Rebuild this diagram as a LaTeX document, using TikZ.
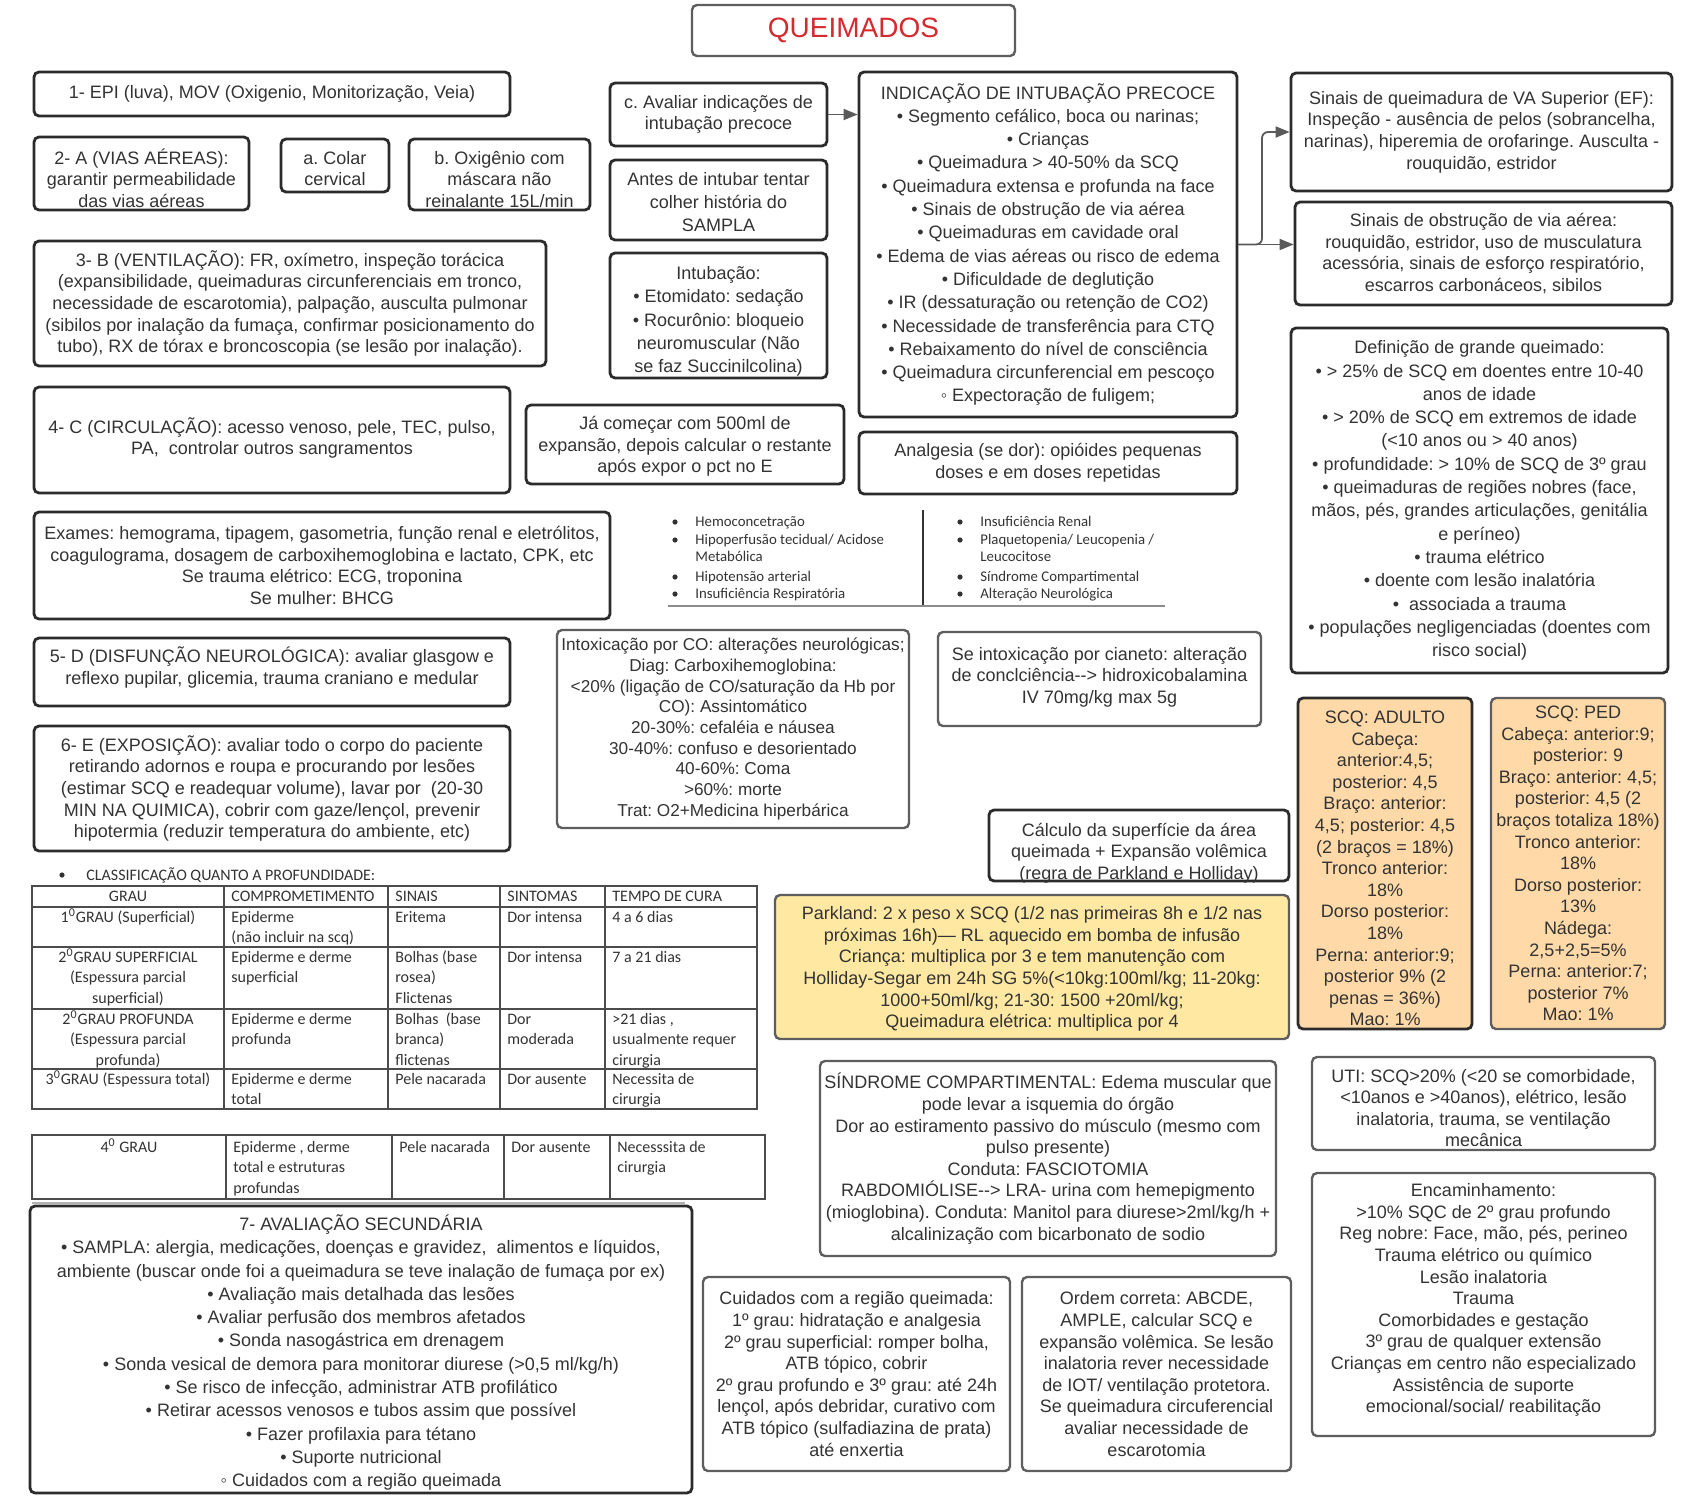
\documentclass[tikz,border=0pt]{standalone}
\usepackage{fontspec}
\setmainfont{Liberation Sans}
\newfontfamily\calfont{Carlito}
\usetikzlibrary{arrows.meta}
\frenchspacing
\definecolor{dkb}{HTML}{2B2B2B}
\definecolor{grb}{HTML}{5E5E5E}
\definecolor{peach}{HTML}{FFDAA8}
\definecolor{lyel}{HTML}{FEE8A2}
\definecolor{tred}{HTML}{D42A30}
\definecolor{agray}{HTML}{5A5A5A}
\definecolor{txtc}{HTML}{333333}
\newcommand\bx[7]{\node[#6, minimum width={(#4-#2)*0.5pt}, minimum height={(#5-#3)*0.5pt}] (#1) at ({(#2+#4)/2},{(#3+#5)/2}) {#7};}
% box with separately placed (vertically shifted) text
\newcommand\bxs[9]{\node[#6, minimum width={(#4-#2)*0.5pt}, minimum height={(#5-#3)*0.5pt}] (#1) at ({(#2+#4)/2},{(#3+#5)/2}) {};
  \node[txt, #7] (#1t) at ({(#2+#4)/2},{(#3+#5)/2+#8}) {#9};}
\newcommand\dashar{-\kern0pt->}
\newcommand\tstrut{\rule{0pt}{7.5pt}}
\begin{document}
\frenchspacing
\begin{tikzpicture}[x=0.5pt, y=-0.5pt,
 box/.style={draw=dkb, line width=1.4pt, rounded corners=2.5pt, inner sep=0pt, align=center, text=txtc, font=\fontsize{9}{10.8}\selectfont},
 gbox/.style={box, draw=grb, line width=1.2pt},
 wide/.style={font=\fontsize{9}{11.65}\selectfont},
 txt/.style={inner sep=0pt, align=center, text=txtc, font=\fontsize{9}{10.8}\selectfont},
 arr/.style={draw=agray, line width=0.9pt, -{Triangle[length=7pt,width=5.5pt]}},
 cellt/.style={inner sep=0pt, align=left, anchor=north west, text=txtc, font=\calfont\fontsize{8}{10.25}\selectfont},
 cellc/.style={cellt, align=center, anchor=north},
 lst/.style={inner sep=0pt, anchor=base west, text=txtc, font=\calfont\fontsize{7.4}{9}\selectfont},
 tline/.style={draw=black!70, line width=0.6pt}]
\fill[white] (0,0) rectangle (1684,1511);
\useasboundingbox (0,0) rectangle (1684,1511);

% title
\bx{title}{692}{5}{1015}{56}{gbox, font=\fontsize{14}{16}\selectfont, text=tred}{QUEIMADOS}

% left column
\bx{epi}{34}{72}{510}{116}{box}{1- EPI (luva), MOV (Oxigenio, Monitorização, Veia)}
\bxs{viasa}{34}{137}{249}{210}{box}{}{4.5}{2- A (VIAS AÉREAS):\\garantir permeabilidade\\das vias aéreas}
\bxs{colar}{281}{139}{389}{192}{box}{}{3}{a. Colar\\cervical}
\bxs{oxig}{409}{139}{590}{210}{box}{}{5}{b. Oxigênio com\\máscara não\\reinalante 15L/min}
\bx{vent}{34}{241}{546}{366}{box}{3- B (VENTILAÇÃO): FR, oxímetro, inspeção torácica\\(expansibilidade, queimaduras circunferenciais em tronco,\\necessidade de escarotomia), palpação, ausculta pulmonar\\(sibilos por inalação da fumaça, confirmar posicionamento do\\tubo), RX de tórax e broncoscopia (se lesão por inalação).}
\bxs{circ}{34}{387}{510}{493}{box}{}{-2}{4- C (CIRCULAÇÃO): acesso venoso, pele, TEC, pulso,\\PA,\ \ controlar outros sangramentos}
\bx{exames}{34}{512}{610}{619}{box}{Exames: hemograma, tipagem, gasometria, função renal e eletrólitos,\\coagulograma, dosagem de carboxihemoglobina e lactato, CPK, etc\\Se trauma elétrico: ECG, troponina\\Se mulher: BHCG}
\bxs{neuro}{34}{638}{510}{706}{box}{}{-4.5}{5- D (DISFUNÇÃO NEUROLÓGICA): avaliar glasgow e\\reflexo pupilar, glicemia, trauma craniano e medular}
\bx{expo}{34}{726}{510}{851}{box}{6- E (EXPOSIÇÃO): avaliar todo o corpo do paciente\\retirando adornos e roupa e procurando por lesões\\(estimar SCQ e readequar volume), lavar por\ \ (20-30\\MIN NA QUIMICA), cobrir com gaze/lençol, prevenir\\hipotermia (reduzir temperatura do ambiente, etc)}

% middle column
\bx{aval}{610}{83}{827}{146}{box}{c. Avaliar indicações de\\intubação precoce}
\bxs{sampla}{610}{160}{827}{240}{box}{wide}{2}{Antes de intubar tentar\\colher história do\\SAMPLA}
\bxs{intub}{610}{253}{827}{378}{box}{wide}{6}{Intubação:\\• Etomidato: sedação\\• Rocurônio: bloqueio\\neuromuscular (Não\\se faz Succinilcolina)}
\bxs{ja}{526}{405}{844}{484}{box}{}{2}{Já começar com 500ml de\\expansão, depois calcular o restante\\após expor o pct no E}
\bx{indic}{859}{72}{1237}{417}{box,wide}{INDICAÇÃO DE INTUBAÇÃO PRECOCE\\• Segmento cefálico, boca ou narinas;\\• Crianças\\• Queimadura > 40-50\% da SCQ\\• Queimadura extensa e profunda na face\\• Sinais de obstrução de via aérea\\• Queimaduras em cavidade oral\\• Edema de vias aéreas ou risco de edema\\• Dificuldade de deglutição\\• IR (dessaturação ou retenção de CO2)\\• Necessidade de transferência para CTQ\\• Rebaixamento do nível de consciência\\• Queimadura circunferencial em pescoço\\◦ Expectoração de fuligem;}
\bx{analg}{859}{432}{1237}{494}{box}{Analgesia (se dor): opióides pequenas\\doses e em doses repetidas}
\bx{co}{557}{630}{909}{828}{gbox, font=\fontsize{8.6}{10.35}\selectfont}{Intoxicação por CO: alterações neurológicas;\\Diag: Carboxihemoglobina:\\<20\% (ligação de CO/saturação da Hb por\\CO): Assintomático\\20-30\%: cefaléia e náusea\\30-40\%: confuso e desorientado\\40-60\%: Coma\\>60\%: morte\\Trat: O2+Medicina hiperbárica}
\bxs{cian}{938}{632}{1261}{726}{gbox}{}{-2}{Se intoxicação por cianeto: alteração\\de conclciência\dashar{} hidroxicobalamina\\IV 70mg/kg max 5g}
\bxs{calc}{989}{810}{1289}{881}{box}{}{7.5}{Cálculo da superfície da área\\queimada + Expansão volêmica\\(regra de Parkland e Holliday)}
\bxs{park}{775}{895}{1289}{1039}{gbox, fill=lyel}{}{2}{Parkland: 2 x peso x SCQ (1/2 nas primeiras 8h e 1/2 nas\\próximas 16h)— RL aquecido em bomba de infusão\\Criança: multiplica por 3 e tem manutenção com\\Holliday-Segar em 24h SG 5\%(<10kg:100ml/kg; 11-20kg:\\1000+50ml/kg; 21-30: 1500 +20ml/kg;\\Queimadura elétrica: multiplica por 4}
\bx{sind}{820}{1061}{1276}{1256}{gbox}{SÍNDROME COMPARTIMENTAL: Edema muscular que\\pode levar a isquemia do órgão\\Dor ao estiramento passivo do músculo (mesmo com\\pulso presente)\\Conduta: FASCIOTOMIA\\RABDOMIÓLISE\dashar{} LRA- urina com hemepigmento\\(mioglobina). Conduta: Manitol para diurese>2ml/kg/h +\\alcalinização com bicarbonato de sodio}
\bx{cuid}{703}{1277}{1010}{1471}{gbox}{Cuidados com a região queimada:\\1º grau: hidratação e analgesia\\2º grau superficial: romper bolha,\\ATB tópico, cobrir\\2º grau profundo e 3º grau: até 24h\\lençol, após debridar, curativo com\\ATB tópico (sulfadiazina de prata)\\até enxertia}
\bx{ord}{1022}{1277}{1291}{1471}{gbox}{Ordem correta: ABCDE,\\AMPLE, calcular SCQ e\\expansão volêmica. Se lesão\\inalatoria rever necessidade\\de IOT/ ventilação protetora.\\Se queimadura circuferencial\\avaliar necessidade de\\escarotomia}

% right column
\bx{va}{1291}{73}{1672}{191}{box}{Sinais de queimadura de VA Superior (EF):\\Inspeção - ausência de pelos (sobrancelha,\\narinas), hiperemia de orofaringe. Ausculta -\\rouquidão, estridor}
\bx{obs}{1295}{202}{1672}{305}{box}{Sinais de obstrução de via aérea:\\rouquidão, estridor, uso de musculatura\\acessória, sinais de esforço respiratório,\\escarros carbonáceos, sibilos}
\bx{def}{1291}{328}{1668}{673}{box,wide}{Definição de grande queimado:\\• > 25\% de SCQ em doentes entre 10-40\\anos de idade\\• > 20\% de SCQ em extremos de idade\\(<10 anos ou > 40 anos)\\• profundidade: > 10\% de SCQ de 3º grau\\• queimaduras de regiões nobres (face,\\mãos, pés, grandes articulações, genitália\\e períneo)\\• trauma elétrico\\• doente com lesão inalatória\\•\ \ associada a trauma\\• populações negligenciadas (doentes com\\risco social)}
\bxs{scqa}{1298}{698}{1472}{1029}{box, fill=peach}{}{5}{SCQ: ADULTO\\Cabeça:\\anterior:4,5;\\posterior: 4,5\\Braço: anterior:\\4,5; posterior: 4,5\\(2 braços = 18\%)\\Tronco anterior:\\18\%\\Dorso posterior:\\18\%\\Perna: anterior:9;\\posterior 9\% (2\\penas = 36\%)\\Mao: 1\%}
\bx{scqp}{1491}{698}{1665}{1029}{gbox, fill=peach}{SCQ: PED\\Cabeça: anterior:9;\\posterior: 9\\Braço: anterior: 4,5;\\posterior: 4,5 (2\\braços totaliza 18\%)\\Tronco anterior:\\18\%\\Dorso posterior:\\13\%\\Nádega:\\2,5+2,5=5\%\\Perna: anterior:7;\\posterior 7\%\\Mao: 1\%}
\bxs{uti}{1312}{1057}{1655}{1150}{gbox}{}{4.5}{UTI: SCQ>20\% (<20 se comorbidade,\\<10anos e >40anos), elétrico, lesão\\inalatoria, trauma, se ventilação\\mecânica}
\bxs{enc}{1312}{1173}{1655}{1436}{gbox}{}{-4.5}{Encaminhamento:\\>10\% SQC de 2º grau profundo\\Reg nobre: Face, mão, pés, perineo\\Trauma elétrico ou químico\\Lesão inalatoria\\Trauma\\Comorbidades e gestação\\3º grau de qualquer extensão\\Crianças em centro não especializado\\Assistência de suporte\\emocional/social/ reabilitação}

% bottom left
\bxs{sec}{30}{1206}{692}{1493}{box}{wide}{3}{7- AVALIAÇÃO SECUNDÁRIA\\• SAMPLA: alergia, medicações, doenças e gravidez,\ \ alimentos e líquidos,\\ambiente (buscar onde foi a queimadura se teve inalação de fumaça por ex)\\• Avaliação mais detalhada das lesões\\• Avaliar perfusão dos membros afetados\\• Sonda nasogástrica em drenagem\\• Sonda vesical de demora para monitorar diurese (>0,5 ml/kg/h)\\• Se risco de infecção, administrar ATB profilático\\• Retirar acessos venosos e tubos assim que possível\\• Fazer profilaxia para tétano\\• Suporte nutricional\\◦ Cuidados com a região queimada}

% connectors
\draw[arr] (aval.east) -- (aval.east -| indic.west);
\coordinate (jn) at (1262,244.5);
\draw[arr] (indic.east) -- (indic.east -| obs.west);
\draw[arr, rounded corners=3pt] (indic.east) -- (jn) |- (va.west);

% complications list
\draw[black!80, line width=0.7pt] (923,510) -- (923,605);
\draw[black!45, line width=0.6pt] (668,606) -- (1165,606);
\foreach \yy in {522,540,577,594} {
  \fill[txtc] (675,\yy) circle[radius=1.3pt];
  \fill[txtc] (960,\yy) circle[radius=1.3pt];
}
\node[lst] (l1) at (695,526) {Hemoconcetração};
\node[lst] (l2) at (695,544) {Hipoperfusão tecidual/ Acidose};
\node[lst] (l3) at (695,561) {Metabólica};
\node[lst] (l4) at (695,581) {Hipotensão arterial};
\node[lst] (l5) at (695,598) {Insuficiência Respiratória};
\node[lst] (r1) at (980,526) {Insuficiência Renal};
\node[lst] (r2) at (980,544) {Plaquetopenia/ Leucopenia /};
\node[lst] (r3) at (980,561) {Leucocitose};
\node[lst] (r4) at (980,581) {Síndrome Compartimental};
\node[lst] (r5) at (980,598) {Alteração Neurológica};

% classification table
\fill[txtc] (62,875) circle[radius=1.3pt];
\node[cellt, anchor=base west] (thead) at (86,880) {CLASSIFICAÇÃO QUANTO A PROFUNDIDADE:};
\draw[tline] (32,886) rectangle (757,1109);
\foreach \yy in {907,947,1009,1069} \draw[tline] (32,\yy) -- (757,\yy);
\foreach \xx in {224,388,500,605} \draw[tline] (\xx,886) -- (\xx,1109);

\node[cellc] (h1) at (128,886) {\tstrut GRAU};
\node[cellt] (h2) at (231,886) {\tstrut COMPROMETIMENTO};
\node[cellt] (h3) at (395,886) {\tstrut SINAIS};
\node[cellt] (h4) at (507,886) {\tstrut SINTOMAS};
\node[cellt] (h5) at (612,886) {\tstrut TEMPO DE CURA};

\node[cellc] (a1) at (128,907) {\tstrut 1\textsuperscript{0}GRAU (Superficial)};
\node[cellt] (a2) at (231,907) {\tstrut Epiderme\\(não incluir na scq)};
\node[cellt] (a3) at (395,907) {\tstrut Eritema};
\node[cellt] (a4) at (507,907) {\tstrut Dor intensa};
\node[cellt] (a5) at (612,907) {\tstrut 4 a 6 dias};

\node[cellc] (b1) at (128,947) {\tstrut 2\textsuperscript{0}GRAU SUPERFICIAL\\(Espessura parcial\\superficial)};
\node[cellt] (b2) at (231,947) {\tstrut Epiderme e derme\\superficial};
\node[cellt] (b3) at (395,947) {\tstrut Bolhas (base\\rosea)\\Flictenas};
\node[cellt] (b4) at (507,947) {\tstrut Dor intensa};
\node[cellt] (b5) at (612,947) {\tstrut 7 a 21 dias};

\node[cellc] (c1) at (128,1009) {\tstrut 2\textsuperscript{0}GRAU PROFUNDA\\(Espessura parcial\\profunda)};
\node[cellt] (c2) at (231,1009) {\tstrut Epiderme e derme\\profunda};
\node[cellt] (c3) at (395,1009) {\tstrut Bolhas\ \ (base\\branca)\\flictenas};
\node[cellt] (c4) at (507,1009) {\tstrut Dor\\moderada};
\node[cellt] (c5) at (612,1009) {\tstrut >21 dias ,\\usualmente requer\\cirurgia};

\node[cellc] (d1) at (128,1069) {\tstrut 3\textsuperscript{0}GRAU (Espessura total)};
\node[cellt] (d2) at (231,1069) {\tstrut Epiderme e derme\\total};
\node[cellt] (d3) at (395,1069) {\tstrut Pele nacarada};
\node[cellt] (d4) at (507,1069) {\tstrut Dor ausente};
\node[cellt] (d5) at (612,1069) {\tstrut Necessita de\\cirurgia};

% 4th degree table
\draw[tline] (32,1135) rectangle (765,1199);
\foreach \xx in {226,392,504,610} \draw[tline] (\xx,1135) -- (\xx,1199);
\draw[black!30, line width=0.6pt] (32,1203) -- (685,1203);
\node[cellc] (e1) at (129,1137) {\tstrut 4\textsuperscript{0} GRAU};
\node[cellt] (e2) at (233,1137) {\tstrut Epiderme , derme\\total e estruturas\\profundas};
\node[cellt] (e3) at (399,1137) {\tstrut Pele nacarada};
\node[cellt] (e4) at (511,1137) {\tstrut Dor ausente};
\node[cellt] (e5) at (617,1137) {\tstrut Necesssita de\\cirurgia};
\end{tikzpicture}
\end{document}
